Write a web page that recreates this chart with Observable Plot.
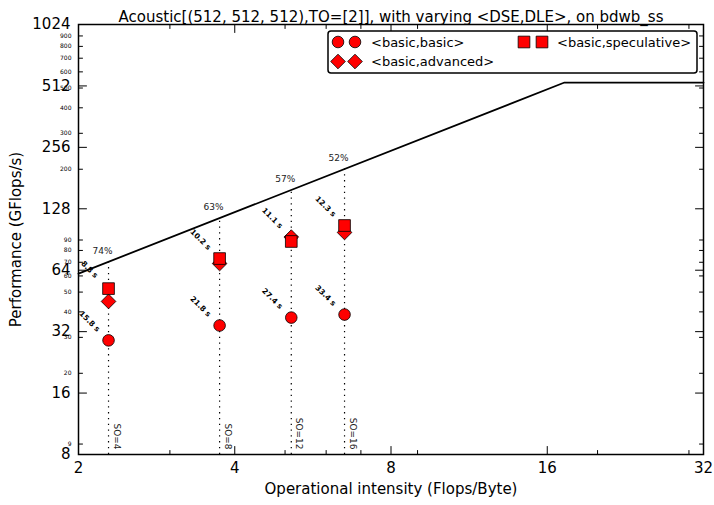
<!DOCTYPE html>
<html>
<head>
<meta charset="utf-8">
<script src="https://cdn.jsdelivr.net/npm/d3@7"></script>
<script src="https://cdn.jsdelivr.net/npm/@observablehq/plot@0.6"></script>
<style>
  html, body { margin: 0; padding: 0; background: #fff; }
  #chart { width: 714px; height: 505px; }
</style>
</head>
<body>
<div id="chart"></div>
<script>
// ---- data ----
const title = "Acoustic[(512, 512, 512),TO=[2]], with varying <DSE,DLE>, on bdwb_ss";
const xLabel = "Operational intensity (Flops/Byte)";
const yLabel = "Performance (GFlops/s)";
const soLabels = ["SO=4", "SO=8", "SO=12", "SO=16"];
const intensity = [2.285, 3.74, 5.14, 6.51];
const basicBasic = [29, 34.3, 37.5, 38.8];
const basicAdvanced = [45, 69, 93, 98];
const basicSpeculative = [52, 73, 88.5, 106];
const timeBasic = ["15.8 s", "21.8 s", "27.4 s", "33.4 s"];
const timeBest = ["8.8 s", "10.2 s", "11.1 s", "12.3 s"];
const percentLabels = ["74%", "63%", "57%", "52%"];
const bandwidth = 30.8;   // GB/s
const peak = 532;         // GFlops/s
const xMajor = [2, 4, 8, 16, 32];
const xMinor = [3, 5, 6, 7, 9, 20, 30];
const yMajor = [8, 16, 32, 64, 128, 256, 512, 1024];
const yMinor = [9, 20, 30, 40, 50, 60, 70, 80, 90, 200, 300, 400, 500, 600, 700, 800, 900];
const seriesNames = ["<basic,basic>", "<basic,advanced>", "<basic,speculative>"];

// ---- derived ----
const idx = d3.range(intensity.length);
const roof = x => Math.min(bandwidth * x, peak);
const roofX = [2, peak / bandwidth, 32];
const bestY = idx.map(i => Math.max(basicAdvanced[i], basicSpeculative[i]));

const tickShape = { draw(ctx, l) { ctx.moveTo(0, 0); ctx.lineTo(0, -l); } };
const tickMarks = (values, ch, anchor, rotate, length) =>
  Plot.vector(values, { [ch]: d => d, frameAnchor: anchor, rotate, length, anchor: "start", shape: tickShape, stroke: "black", strokeWidth: 1 });

const RED = "#ff0000";
const R_CIRCLE = 5.8, R_SQ = 6.6, R_DIA = 6.6;

const plot = Plot.plot({
  width: 714,
  height: 505,
  marginLeft: 78,
  marginRight: 11,
  marginTop: 24,
  marginBottom: 51,
  style: { fontFamily: "DejaVu Sans, sans-serif", background: "white", color: "black" },
  x: { type: "log", base: 2, domain: [2, 32] },
  y: { type: "log", base: 2, domain: [8, 1024] },
  marks: [
    // axes labels
    Plot.axisX({ ticks: xMajor, tickFormat: d => String(d), tickSize: 0, tickPadding: 8, fontSize: 15, label: null }),
    Plot.axisY({ ticks: yMinor, tickFormat: d => String(d), tickSize: 0, tickPadding: 7, fontSize: 6, fill: "black", label: null }),
    Plot.axisY({ ticks: yMajor, tickFormat: d => String(d), tickSize: 0, tickPadding: 8, fontSize: 15, label: null }),
    // inward ticks
    tickMarks(xMajor, "x", "bottom", 0, 8),
    tickMarks(xMinor, "x", "bottom", 0, 4),
    tickMarks(xMajor, "x", "top", 180, 8),
    tickMarks(xMinor, "x", "top", 180, 4),
    tickMarks(yMajor, "y", "left", 90, 8),
    tickMarks(yMinor, "y", "left", 90, 4),
    tickMarks(yMajor, "y", "right", 270, 8),
    tickMarks(yMinor, "y", "right", 270, 4),
    // dotted verticals
    Plot.ruleX(idx, { x: i => intensity[i], y1: 8, y2: i => roof(intensity[i]), stroke: "black", strokeWidth: 1.2, strokeDasharray: "1.3,4.5" }),
    // roofline
    Plot.line(roofX, { x: d => d, y: d => roof(d), stroke: "black", strokeWidth: 1.8 }),
    // markers
    Plot.dot(idx, { x: i => intensity[i], y: i => basicBasic[i], symbol: "circle", r: R_CIRCLE, fill: RED, stroke: "black", strokeWidth: 0.8 }),
    Plot.dot(idx, { x: i => intensity[i], y: i => basicAdvanced[i], symbol: "diamond2", r: R_DIA, fill: RED, stroke: "black", strokeWidth: 0.8 }),
    Plot.dot(idx, { x: i => intensity[i], y: i => basicSpeculative[i], symbol: "square", r: R_SQ, fill: RED, stroke: "black", strokeWidth: 0.8 }),
    // labels
    Plot.text(idx, { x: i => intensity[i], y: i => basicBasic[i], text: i => timeBasic[i], rotate: 45, dx: -19, dy: -19, fontSize: 7.5, fontWeight: "bold", fill: "black" }),
    Plot.text(idx, { x: i => intensity[i], y: i => bestY[i], text: i => timeBest[i], rotate: 45, dx: -19, dy: -19, fontSize: 7.5, fontWeight: "bold", fill: "black" }),
    Plot.text(idx, { x: i => intensity[i], y: i => roof(intensity[i]), text: i => percentLabels[i], dx: -6, dy: -11, fontSize: 9, fill: "#222" }),
    Plot.text(idx, { x: i => intensity[i], frameAnchor: "bottom", text: i => soLabels[i], rotate: 90, textAnchor: "end", dx: 5, dy: -5, fontSize: 9, fill: "#222" }),
    // frame
    Plot.frame({ stroke: "black", strokeWidth: 1.5 }),
    // titles
    Plot.text([title], { text: d => d, frameAnchor: "top", textAnchor: "middle", dy: -13, fontSize: 15, fill: "black" }),
    Plot.text([xLabel], { text: d => d, frameAnchor: "bottom", textAnchor: "middle", dy: 39, fontSize: 15, fill: "black" }),
    Plot.text([yLabel], { text: d => d, frameAnchor: "left", textAnchor: "middle", dx: -62, rotate: -90, fontSize: 15, fill: "black" })
  ]
});

document.getElementById("chart").appendChild(plot);

// ---- legend (inside the plot area, upper right) ----
const svg = d3.select(plot);
const lg = svg.append("g").attr("font-family", "DejaVu Sans, sans-serif").attr("font-size", 13).attr("text-anchor", "start");
lg.append("rect").attr("x", 328).attr("y", 31).attr("width", 369).attr("height", 42)
  .attr("rx", 3).attr("fill", "white").attr("stroke", "black").attr("stroke-width", 1.5);
const legendItems = [
  { name: seriesNames[0], sym: d3.symbolCircle, r: R_CIRCLE, xs: [338, 355], y: 42, tx: 371 },
  { name: seriesNames[1], sym: d3.symbolDiamond2, r: R_DIA, xs: [338, 355], y: 61.5, tx: 371 },
  { name: seriesNames[2], sym: d3.symbolSquare, r: R_SQ, xs: [524, 542], y: 42, tx: 557 }
];
for (const it of legendItems) {
  const path = d3.symbol(it.sym, it.r * it.r * Math.PI)();
  for (const x of it.xs) {
    lg.append("path").attr("d", path).attr("transform", `translate(${x},${it.y})`)
      .attr("fill", RED).attr("stroke", "black").attr("stroke-width", 0.8);
  }
  lg.append("text").attr("x", it.tx).attr("y", it.y).attr("dy", "0.35em").attr("text-anchor", "start").attr("fill", "black").text(it.name);
}
</script>
</body>
</html>
